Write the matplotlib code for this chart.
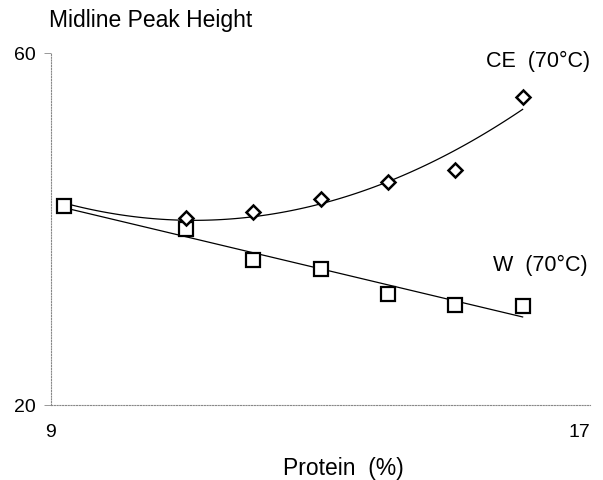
import numpy as np
import matplotlib
matplotlib.use("Agg")
import matplotlib.pyplot as plt

plt.rcParams['font.family'] = ['Liberation Sans', 'DejaVu Sans']

# Data
protein = [9.2, 11, 12, 13, 14, 15, 16]
w_values = [42.6, 40.0, 36.5, 35.5, 32.6, 31.4, 31.2]
ce_protein = [11, 12, 13, 14, 15, 16]
ce_values = [41.2, 41.9, 43.4, 45.3, 46.7, 55.0]
x_ticks = [9, 17]
y_ticks = [20, 60]

W, H = 603, 480
fig = plt.figure(figsize=(W / 100, H / 100), dpi=100)
ax = fig.add_axes([51 / W, 1 - 405 / H, 539 / W, 352 / H])
ax.set_xlim(9, 17)
ax.set_ylim(20, 60)

# fitted curves
xs_w = np.linspace(protein[0], protein[-1], 100)
pw = np.polyfit(protein, w_values, 1)
ax.plot(xs_w, np.polyval(pw, xs_w), color='black', lw=0.9)

ce_fit_x = [protein[0]] + ce_protein
ce_fit_y = [w_values[0]] + ce_values
pc = np.polyfit(ce_fit_x, ce_fit_y, 2)
ax.plot(xs_w, np.polyval(pc, xs_w), color='black', lw=0.9)

ax.plot(protein, w_values, linestyle='none', marker='s', markersize=10,
        markerfacecolor='white', markeredgecolor='black', markeredgewidth=1.6)
ax.plot(ce_protein, ce_values, linestyle='none', marker='D', markersize=7,
        markerfacecolor='white', markeredgecolor='black', markeredgewidth=1.8)

for s in ['top', 'right']:
    ax.spines[s].set_visible(False)
for s in ['left', 'bottom']:
    ax.spines[s].set_linestyle((0, (1, 1.5)))
    ax.spines[s].set_color('#888888')
    ax.spines[s].set_linewidth(0.8)

ax.set_xticks(x_ticks)
ax.set_yticks(y_ticks)
ax.set_xticklabels([str(v) for v in x_ticks], fontsize=14)
ax.set_yticklabels([str(v) for v in y_ticks], fontsize=14)
ax.tick_params(axis='y', length=5, width=0.6, color='#888888', pad=6)
ax.tick_params(axis='x', length=0, pad=14)
for lbl, ha in zip(ax.get_xticklabels(), ['center', 'right']):
    lbl.set_horizontalalignment(ha)

fig.text(49 / W, 1 - 21 / H, 'Midline Peak Height', fontsize=16.5,
         ha='left', va='center')
fig.text(343 / W, 1 - 469 / H, 'Protein  (%)', fontsize=16.5,
         ha='center', va='center')
fig.text(590 / W, 1 - 61 / H, 'CE  (70°C)', fontsize=15.5,
         ha='right', va='center')
fig.text(588 / W, 1 - 265 / H, 'W  (70°C)', fontsize=15.5,
         ha='right', va='center')

fig.savefig('out.png', dpi=100)
